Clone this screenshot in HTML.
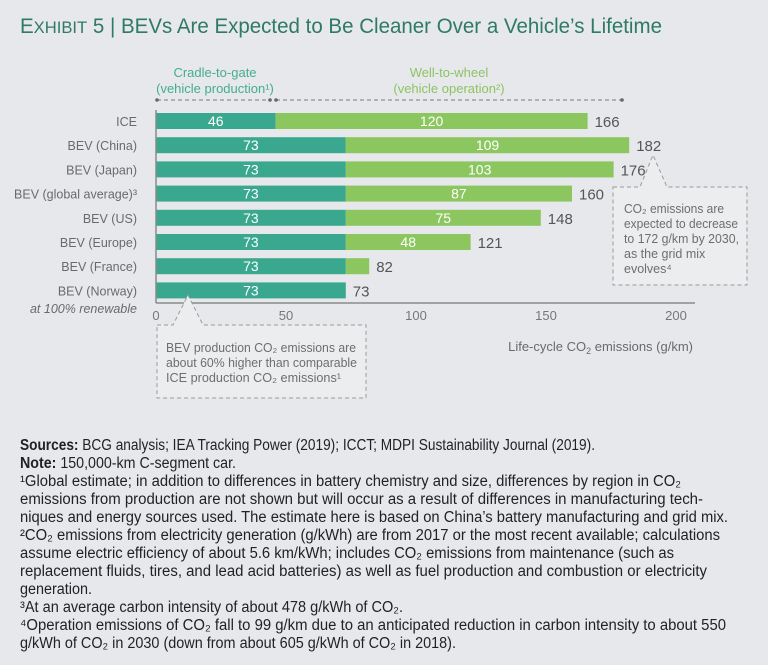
<!DOCTYPE html>
<html><head><meta charset="utf-8"><style>
html,body{margin:0;padding:0;background:#e6e8eb;}
svg{display:block;font-family:"Liberation Sans",sans-serif;}
</style></head><body>
<svg id="chart" width="768" height="665" viewBox="0 0 768 665">
<rect x="0" y="0" width="768" height="665" fill="#e6e8eb"/>
<text x="20" y="33" fill="#2e7a62" font-size="21" textLength="642" lengthAdjust="spacingAndGlyphs">E<tspan font-size="17">XHIBIT</tspan> 5 | BEVs Are Expected to Be Cleaner Over a Vehicle’s Lifetime</text>
<g>
<text x="215" y="77" text-anchor="middle" fill="#45ad8e" font-size="13">Cradle-to-gate</text>
<text x="215" y="93" text-anchor="middle" fill="#45ad8e" font-size="13">(vehicle production¹)</text>
<text x="449" y="77" text-anchor="middle" fill="#8cc463" font-size="13">Well-to-wheel</text>
<text x="449" y="93" text-anchor="middle" fill="#8cc463" font-size="13">(vehicle operation²)</text>
<line x1="157" y1="100" x2="270" y2="100" stroke="#777" stroke-dasharray="4,3"/>
<line x1="276" y1="100" x2="622" y2="100" stroke="#777" stroke-dasharray="4,3"/>
<circle cx="157" cy="100" r="1.8" fill="#666"/><circle cx="270" cy="100" r="1.8" fill="#666"/><circle cx="276" cy="100" r="1.8" fill="#666"/><circle cx="622" cy="100" r="1.8" fill="#666"/>
</g>
<g id="bars"></g>
<g id="axis"></g>
<text x="693" y="351" text-anchor="end" fill="#6a6a6a" font-size="13">Life-cycle CO<tspan font-size="9" dy="3">2</tspan><tspan dy="-3"> emissions (g/km)</tspan></text>
<g>
<path d="M157,325 L173,325 L188,295 L203,325 L366,325 L366,398 L157,398 Z" fill="#ebedef" stroke="#9a9a9a" stroke-dasharray="4,3"/>
<text x="166" y="352" fill="#6e6e6e" font-size="12.5" textLength="190" lengthAdjust="spacingAndGlyphs">BEV production CO₂ emissions are</text>
<text x="166" y="367" fill="#6e6e6e" font-size="12.5" textLength="191" lengthAdjust="spacingAndGlyphs">about 60% higher than comparable</text>
<text x="166" y="382" fill="#6e6e6e" font-size="12.5" textLength="175" lengthAdjust="spacingAndGlyphs">ICE production CO₂ emissions¹</text>
</g>
<g>
<path d="M613,187 L640,187 L653,155 L667,187 L747,187 L747,285 L613,285 Z" fill="#ebedef" stroke="#9a9a9a" stroke-dasharray="4,3"/>
<text x="624" y="213" fill="#6e6e6e" font-size="12.5" textLength="100" lengthAdjust="spacingAndGlyphs">CO₂ emissions are</text>
<text x="624" y="228" fill="#6e6e6e" font-size="12.5" textLength="114" lengthAdjust="spacingAndGlyphs">expected to decrease</text>
<text x="624" y="243" fill="#6e6e6e" font-size="12.5" textLength="115" lengthAdjust="spacingAndGlyphs">to 172 g/km by 2030,</text>
<text x="624" y="258" fill="#6e6e6e" font-size="12.5">as the grid mix</text>
<text x="624" y="273" fill="#6e6e6e" font-size="12.5">evolves⁴</text>
</g>
<g fill="#222" font-size="15.5">
<text x="20" y="450" textLength="575" lengthAdjust="spacingAndGlyphs"><tspan font-weight="bold">Sources:</tspan> BCG analysis; IEA Tracking Power (2019); ICCT; MDPI Sustainability Journal (2019).</text>
<text x="20" y="468" textLength="216" lengthAdjust="spacingAndGlyphs"><tspan font-weight="bold">Note:</tspan> 150,000-km C-segment car.</text>
<text x="20" y="486" textLength="661" lengthAdjust="spacingAndGlyphs">¹Global estimate; in addition to differences in battery chemistry and size, differences by region in CO₂</text>
<text x="20" y="504" textLength="683" lengthAdjust="spacingAndGlyphs">emissions from production are not shown but will occur as a result of differences in manufacturing tech-</text>
<text x="20" y="522" textLength="708" lengthAdjust="spacingAndGlyphs">niques and energy sources used. The estimate here is based on China’s battery manufacturing and grid mix.</text>
<text x="20" y="540" textLength="700" lengthAdjust="spacingAndGlyphs">²CO₂ emissions from electricity generation (g/kWh) are from 2017 or the most recent available; calculations</text>
<text x="20" y="558" textLength="654" lengthAdjust="spacingAndGlyphs">assume electric efficiency of about 5.6 km/kWh; includes CO₂ emissions from maintenance (such as</text>
<text x="20" y="576" textLength="687" lengthAdjust="spacingAndGlyphs">replacement fluids, tires, and lead acid batteries) as well as fuel production and combustion or electricity</text>
<text x="20" y="594" textLength="72" lengthAdjust="spacingAndGlyphs">generation.</text>
<text x="20" y="612" textLength="383" lengthAdjust="spacingAndGlyphs">³At an average carbon intensity of about 478 g/kWh of CO₂.</text>
<text x="20" y="630" textLength="706" lengthAdjust="spacingAndGlyphs">⁴Operation emissions of CO₂ fall to 99 g/km due to an anticipated reduction in carbon intensity to about 550</text>
<text x="20" y="648" textLength="436" lengthAdjust="spacingAndGlyphs">g/kWh of CO₂ in 2030 (down from about 605 g/kWh of CO₂ in 2018).</text>
</g>
</svg>
<script>
const categories = ["ICE","BEV (China)","BEV (Japan)","BEV (global average)³","BEV (US)","BEV (Europe)","BEV (France)","BEV (Norway)"];
const productionValues = [46,73,73,73,73,73,73,73];
const operationValues = [120,109,103,87,75,48,9,0];
const totalValues = [166,182,176,160,148,121,82,73];
const tickValues = [0,50,100,150,200];

const NS = "http://www.w3.org/2000/svg";
const x0 = 156, pxPerUnit = 2.6;
const xScale = v => x0 + v * pxPerUnit;
const yTop = 121, rowStep = 24.2, barH = 16;
const yScale = i => yTop + i * rowStep;
function mk(tag, attrs, parent, text) {
  const e = document.createElementNS(NS, tag);
  for (const k in attrs) e.setAttribute(k, attrs[k]);
  if (text !== undefined) e.textContent = text;
  parent.appendChild(e);
  return e;
}
const bars = document.getElementById("bars");
const axis = document.getElementById("axis");
categories.forEach((c, i) => {
  const cy = yScale(i);
  const lab = mk("text", {x: 137, y: cy + 5, "text-anchor": "end", fill: "#6a6a6a", "font-size": 12.5}, bars, c);
  
  
  const p = productionValues[i], o = operationValues[i];
  const r1 = mk("rect", {x: xScale(0), y: cy - barH / 2, width: xScale(p) - xScale(0), height: barH, fill: "#3aa88f"}, bars);
  
  
  const t1 = mk("text", {x: (xScale(0) + xScale(p)) / 2, y: cy + 5, "text-anchor": "middle", fill: "#fff", "font-size": 14}, bars, p);
  
  
  if (o > 0) {
    const r2 = mk("rect", {x: xScale(p), y: cy - barH / 2, width: xScale(p + o) - xScale(p), height: barH, fill: "#8bc65f"}, bars);
    
    
    if (o >= 20) {
      const t2 = mk("text", {x: (xScale(p) + xScale(p + o)) / 2, y: cy + 5, "text-anchor": "middle", fill: "#fff", "font-size": 14}, bars, o);
      
      
    }
  }
  const t3 = mk("text", {x: xScale(totalValues[i]) + 7, y: cy + 6, fill: "#555", "font-size": 15}, bars, totalValues[i]);
  
  
});
const yl = mk("line", {x1: x0, y1: 110, x2: x0, y2: 303, stroke: "#8a8a8a", "stroke-width": 1.5}, axis);


const xl = mk("line", {x1: x0, y1: 303, x2: 695, y2: 303, stroke: "#8a8a8a", "stroke-width": 1.5}, axis);


tickValues.forEach(t => {
  const tl = mk("text", {x: xScale(t), y: 320, "text-anchor": "middle", fill: "#777", "font-size": 13}, axis, t);
  
  
});
const sub = mk("text", {x: 137, y: 313, "text-anchor": "end", fill: "#6a6a6a", "font-size": 12.5, "font-style": "italic"}, bars, "at 100% renewable");


</script>
</body></html>
